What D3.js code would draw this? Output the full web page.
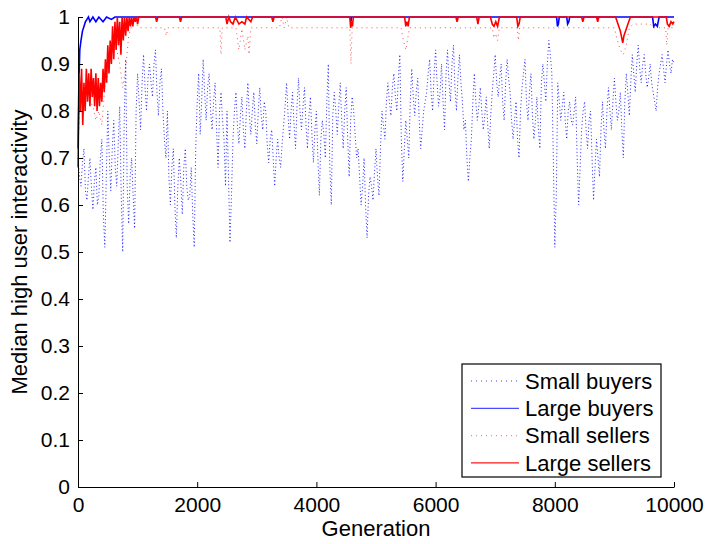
<!DOCTYPE html>
<html>
<head>
<meta charset="utf-8">
<script src="https://cdn.jsdelivr.net/npm/d3@7"></script>
<style>
  body { margin: 0; background: #fff; }
  svg text { font-family: "Liberation Sans", Arial, sans-serif; fill: #000; }
</style>
</head>
<body>
<div id="chart"></div>
<script>
// tick labels
const xTicks = [0, 2000, 4000, 6000, 8000, 10000];
const yTicks = [0, 0.1, 0.2, 0.3, 0.4, 0.5, 0.6, 0.7, 0.8, 0.9, 1];

// small buyers, readings at generations 0, 50, 100 ... 10000
const smallBuyersEven = [
  0.70, 0.64, 0.72, 0.61, 0.70, 0.59, 0.68, 0.62, 0.74, 0.51,
  0.80, 0.63, 0.78, 0.64, 0.81, 0.50, 0.91, 0.56, 0.70, 0.55,
  0.88, 0.76, 0.92, 0.80, 0.90, 0.83, 0.93, 0.79, 0.89, 0.74,
  0.80, 0.60, 0.72, 0.53, 0.70, 0.58, 0.72, 0.61, 0.68, 0.51,
  0.82, 0.75, 0.91, 0.78, 0.88, 0.76, 0.86, 0.68, 0.84, 0.74,
  0.80, 0.52, 0.74, 0.84, 0.73, 0.83, 0.72, 0.86, 0.75, 0.84,
  0.73, 0.85, 0.76, 0.80, 0.69, 0.76, 0.64, 0.74, 0.68, 0.77,
  0.86, 0.74, 0.84, 0.72, 0.87, 0.76, 0.85, 0.72, 0.83, 0.69,
  0.80, 0.62, 0.78, 0.70, 0.90, 0.60, 0.84, 0.75, 0.86, 0.72,
  0.85, 0.66, 0.83, 0.75, 0.72, 0.60, 0.70, 0.53, 0.66, 0.61,
  0.72, 0.62, 0.80, 0.74, 0.86, 0.79, 0.88, 0.80, 0.92, 0.65,
  0.78, 0.70, 0.89, 0.79, 0.87, 0.72, 0.80, 0.84, 0.91, 0.80,
  0.93, 0.81, 0.90, 0.76, 0.93, 0.82, 0.94, 0.80, 0.92, 0.82,
  0.78, 0.65, 0.74, 0.88, 0.78, 0.85, 0.76, 0.83, 0.72, 0.84,
  0.92, 0.83, 0.90, 0.78, 0.91, 0.84, 0.74, 0.82, 0.70, 0.85,
  0.91, 0.78, 0.88, 0.74, 0.83, 0.72, 0.90, 0.82, 0.95, 0.88,
  0.51, 0.86, 0.78, 0.84, 0.74, 0.82, 0.77, 0.83, 0.60, 0.76,
  0.82, 0.72, 0.80, 0.61, 0.74, 0.66, 0.82, 0.72, 0.85, 0.76,
  0.87, 0.78, 0.84, 0.70, 0.88, 0.79, 0.92, 0.84, 0.94, 0.86,
  0.92, 0.85, 0.90, 0.84, 0.80, 0.88, 0.92, 0.86, 0.93, 0.88,
  0.90
];

// small buyers, readings at generations 25, 75, 125 ... 9975
const smallBuyersOdd = [
  0.66, 0.69, 0.63, 0.66, 0.64, 0.65, 0.60, 0.70, 0.58, 0.66,
  0.70, 0.72, 0.68, 0.73, 0.62, 0.78, 0.64, 0.66, 0.62, 0.80,
  0.82, 0.86, 0.85, 0.87, 0.86, 0.90, 0.84, 0.86, 0.80, 0.70,
  0.66, 0.68, 0.60, 0.64, 0.65, 0.68, 0.64, 0.62, 0.58, 0.72,
  0.88, 0.82, 0.84, 0.85, 0.80, 0.82, 0.76, 0.80, 0.78, 0.64,
  0.66, 0.62, 0.80, 0.77, 0.79, 0.76, 0.80, 0.79, 0.80, 0.77,
  0.80, 0.79, 0.82, 0.73, 0.74, 0.70, 0.70, 0.70, 0.73, 0.81,
  0.79, 0.80, 0.77, 0.81, 0.80, 0.81, 0.77, 0.79, 0.75, 0.76,
  0.70, 0.74, 0.75, 0.82, 0.68, 0.79, 0.80, 0.81, 0.78, 0.80,
  0.74, 0.78, 0.80, 0.70, 0.66, 0.64, 0.60, 0.62, 0.64, 0.67,
  0.66, 0.72, 0.77, 0.82, 0.82, 0.85, 0.83, 0.87, 0.74, 0.72,
  0.74, 0.82, 0.83, 0.84, 0.78, 0.76, 0.82, 0.88, 0.84, 0.88,
  0.86, 0.84, 0.82, 0.88, 0.86, 0.90, 0.85, 0.87, 0.86, 0.76,
  0.70, 0.70, 0.82, 0.82, 0.81, 0.80, 0.79, 0.77, 0.79, 0.88,
  0.86, 0.87, 0.82, 0.86, 0.87, 0.78, 0.78, 0.74, 0.80, 0.88,
  0.82, 0.84, 0.79, 0.78, 0.76, 0.86, 0.86, 0.90, 0.92, 0.70,
  0.62, 0.82, 0.81, 0.78, 0.80, 0.78, 0.80, 0.70, 0.68, 0.80,
  0.76, 0.78, 0.70, 0.68, 0.70, 0.76, 0.76, 0.80, 0.80, 0.82,
  0.82, 0.80, 0.76, 0.82, 0.84, 0.86, 0.88, 0.90, 0.89, 0.90,
  0.88, 0.87, 0.86, 0.82, 0.85, 0.90, 0.89, 0.90, 0.90, 0.91
];

// large buyers: [generation, value]
const largeBuyers = [
  [0, 0.72], [15, 0.86], [30, 0.93], [50, 0.95], [75, 0.97], [100, 0.98],
  [125, 0.99], [150, 0.995], [175, 1.0], [200, 0.99], [250, 1.0], [300, 0.99],
  [350, 1.0], [420, 0.99], [480, 1.0], [560, 0.995], [620, 1.0],
  [4570, 1.0], [4580, 0.99], [4590, 1.0],
  [8030, 1.0], [8045, 0.98], [8060, 0.985], [8075, 1.0],
  [8200, 1.0], [8215, 0.985], [8235, 0.99], [8250, 1.0],
  [9640, 1.0], [9660, 0.98], [9690, 0.985], [9720, 0.98], [9750, 1.0],
  [10000, 1.0]
];

// large sellers: [generation, value]
const largeSellers = [
  [0, 0.68], [20, 0.88], [40, 0.80], [60, 0.89], [80, 0.77], [100, 0.86],
  [120, 0.80], [140, 0.89], [160, 0.82], [180, 0.88], [200, 0.81], [220, 0.89],
  [240, 0.83], [260, 0.87], [280, 0.81], [300, 0.88], [320, 0.80], [340, 0.87],
  [360, 0.81], [380, 0.86], [400, 0.82], [420, 0.89], [440, 0.84], [460, 0.91],
  [480, 0.86], [500, 0.94], [520, 0.88], [540, 0.95], [560, 0.90], [580, 0.98],
  [600, 0.91], [620, 0.99], [640, 0.93], [660, 1.0], [680, 0.94], [700, 0.99],
  [720, 0.92], [740, 1.0], [760, 0.95], [780, 1.0], [800, 0.96], [820, 1.0],
  [840, 0.97], [860, 1.0], [880, 0.98], [900, 1.0], [920, 0.98], [940, 1.0],
  [960, 0.99], [980, 1.0], [1000, 0.985], [1020, 1.0],
  [1300, 1.0], [1320, 0.99], [1340, 1.0], [1700, 1.0], [1720, 0.99], [1740, 1.0],
  [2480, 1.0], [2500, 0.985], [2530, 1.0], [2560, 0.99], [2600, 0.985], [2640, 1.0],
  [2700, 0.985], [2750, 0.99], [2800, 0.985], [2830, 1.0], [2900, 0.99], [2930, 1.0],
  [3250, 1.0], [3270, 0.99], [3290, 1.0],
  [4560, 1.0], [4575, 0.977], [4590, 0.99], [4605, 0.98], [4620, 1.0],
  [5480, 1.0], [5500, 0.98], [5520, 0.99], [5540, 0.98], [5560, 1.0],
  [6340, 1.0], [6360, 0.99], [6380, 1.0], [6690, 1.0], [6710, 0.985], [6730, 1.0],
  [6920, 1.0], [6950, 0.985], [6980, 0.98], [7010, 0.99], [7040, 0.98], [7070, 1.0],
  [7360, 1.0], [7380, 0.98], [7400, 0.985], [7420, 1.0],
  [8450, 1.0], [8470, 0.99], [8490, 1.0], [8700, 1.0], [8720, 0.99], [8740, 1.0],
  [9020, 1.0], [9060, 0.985], [9100, 0.97], [9140, 0.945], [9160, 0.96], [9200, 0.975],
  [9240, 0.99], [9270, 1.0],
  [9870, 1.0], [9890, 0.985], [9920, 0.98], [9950, 0.99], [9980, 0.985], [10000, 0.99]
];

// small sellers: [generation, value]
const smallSellers = [
  [0, 0.72], [50, 0.86], [100, 0.80], [150, 0.85], [200, 0.82], [250, 0.81],
  [300, 0.78], [350, 0.80], [400, 0.77], [450, 0.85], [500, 0.88], [550, 0.92],
  [600, 0.95], [650, 0.93], [700, 0.90], [750, 0.85], [800, 0.89], [850, 0.96],
  [900, 0.98], [950, 1.0], [1000, 0.98], [1050, 0.977],
  [1450, 0.977], [1480, 0.96], [1510, 0.977],
  [2380, 0.977], [2400, 0.92], [2420, 0.977],
  [2650, 0.977], [2700, 0.93], [2750, 0.975], [2800, 0.93], [2850, 0.96], [2870, 0.92],
  [2900, 0.977], [3380, 0.977], [3420, 1.0], [3460, 0.977], [3500, 1.0], [3540, 0.977],
  [4560, 0.977], [4580, 0.90], [4600, 0.977],
  [5420, 0.977], [5460, 0.95], [5500, 0.93], [5540, 0.96], [5560, 0.977],
  [6950, 0.977], [6980, 0.955], [7010, 0.965], [7040, 0.95], [7070, 0.977],
  [7370, 0.977], [7390, 0.95], [7410, 0.977],
  [9000, 0.977], [9050, 0.95], [9100, 0.93], [9150, 0.92], [9200, 0.94], [9250, 0.977],
  [9320, 0.985], [9600, 0.985], [9650, 0.977],
  [9860, 0.977], [9880, 0.94], [9900, 0.977], [10000, 0.977]
];

const margin = { top: 17, right: 35, bottom: 57, left: 78 };
const width = 709 - margin.left - margin.right;
const height = 544 - margin.top - margin.bottom;

const svg = d3.select('#chart')
    .append('svg')
    .attr('width', width + margin.left + margin.right)
    .attr('height', height + margin.top + margin.bottom)
    .append('g')
    .attr('transform', `translate(${margin.left}, ${margin.top})`);

const x = d3.scaleLinear().domain([0, 10000]).range([0, width]);
const y = d3.scaleLinear().domain([0, 1]).range([height, 0]);

const line = d3.line()
    .x(d => x(d[0]))
    .y(d => y(d[1]));

// merge the two reading grids into one series
const smallBuyersPts = [];
smallBuyersEven.forEach((v, i) => {
    smallBuyersPts.push([i * 50, v]);
    if (i < smallBuyersOdd.length) smallBuyersPts.push([i * 50 + 25, smallBuyersOdd[i]]);
});

// series
svg.append('path')
    .datum(smallBuyersPts)
    .attr('fill', 'none')
    .attr('stroke', '#0000ff')
    .attr('stroke-width', 1)
    .attr('stroke-dasharray', '1,2.5')
    .attr('stroke-opacity', 0.85)
    .attr('d', line);

svg.append('path')
    .datum(smallSellers)
    .attr('fill', 'none')
    .attr('stroke', '#ff0000')
    .attr('stroke-width', 1)
    .attr('stroke-dasharray', '1,4')
    .attr('stroke-opacity', 0.7)
    .attr('d', line);

svg.append('path')
    .datum(largeBuyers)
    .attr('fill', 'none')
    .attr('stroke', '#0000ff')
    .attr('stroke-width', 1.6)
    .attr('d', line);

svg.append('path')
    .datum(largeSellers)
    .attr('fill', 'none')
    .attr('stroke', '#ff0000')
    .attr('stroke-width', 1.6)
    .attr('d', line);

// axes, MATLAB style ticks pointing inward
const xAxis = svg.append('g')
    .attr('transform', `translate(0, ${height})`)
    .call(d3.axisBottom(x).tickValues(xTicks).tickSize(-5).tickSizeOuter(0).tickPadding(10).tickFormat(d => String(d)));

const yAxis = svg.append('g')
    .call(d3.axisLeft(y).tickValues(yTicks).tickSize(-5).tickSizeOuter(0).tickPadding(8).tickFormat(d => String(d)));

[xAxis, yAxis].forEach(a => {
    a.selectAll('text').style('font-size', '21px').style('font-family', '"Liberation Sans", Arial, sans-serif');
    a.select('.domain').attr('stroke', '#000');
    a.selectAll('.tick line').attr('stroke', '#000');
});

svg.append('text')
    .attr('x', width / 2)
    .attr('y', height + 49)
    .attr('text-anchor', 'middle')
    .style('font-size', '22px')
    .text('Generation');

svg.append('text')
    .attr('transform', `translate(${-51}, ${height / 2}) rotate(-90)`)
    .attr('text-anchor', 'middle')
    .style('font-size', '22px')
    .text('Median high user interactivity');

// legend
const legendItems = [
    { name: 'Small buyers', color: '#0000ff', dash: '1,4', op: 0.5 },
    { name: 'Large buyers', color: '#0000ff', dash: null, op: 0.7 },
    { name: 'Small sellers', color: '#ff0000', dash: '1,4', op: 0.5 },
    { name: 'Large sellers', color: '#ff0000', dash: null, op: 0.9 }
];

const legend = svg.append('g')
    .attr('transform', `translate(${462 - margin.left}, ${364 - margin.top})`);

legend.append('rect')
    .attr('width', 199)
    .attr('height', 113)
    .attr('fill', '#fff')
    .attr('stroke', '#000')
    .attr('stroke-width', 1.2);

const rows = legend.selectAll('g.row')
    .data(legendItems)
    .join('g')
    .attr('class', 'row')
    .attr('transform', (d, i) => `translate(0, ${17 + i * 27.3})`);

rows.append('line')
    .attr('x1', 9)
    .attr('x2', 57)
    .attr('stroke', d => d.color)
    .attr('stroke-opacity', d => d.op)
    .attr('stroke-width', 1.3)
    .attr('stroke-dasharray', d => d.dash);

rows.append('text')
    .attr('x', 63)
    .attr('dy', '0.35em')
    .style('font-size', '22px')
    .text(d => d.name);
</script>
</body>
</html>
